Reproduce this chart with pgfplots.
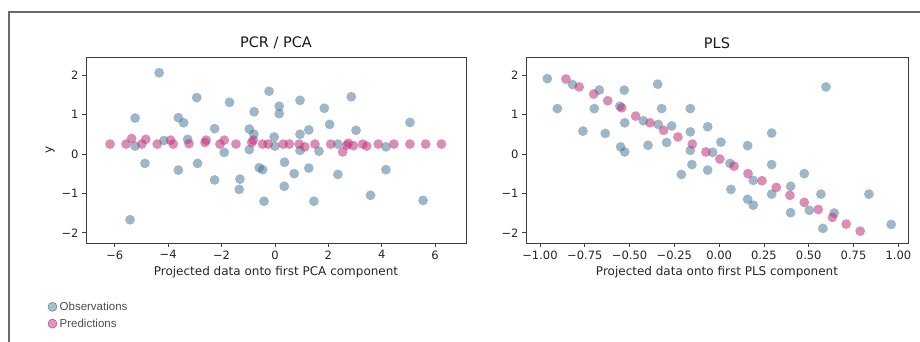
\documentclass[border=0pt]{standalone}
\usepackage{fontspec}
\setmainfont{DejaVu Sans}
\newfontfamily\lgfont{Liberation Sans}
\usepackage{pgfplots}
\pgfplotsset{compat=1.18}
\definecolor{obs}{RGB}{60,110,145}
\definecolor{pred}{RGB}{190,50,120}
\definecolor{axgray}{RGB}{60,60,60}
\definecolor{framegray}{RGB}{105,105,105}
\pgfplotsset{myax/.style={
  scale only axis, height=186pt,
  tick pos=left, tick align=outside, major tick length=4pt,
  axis line style={color=axgray, line width=0.9pt},
  tick style={color=axgray, line width=0.8pt},
  ticklabel style={font=\fontsize{11.5}{13}\selectfont, color=black!85},
  label style={font=\fontsize{12}{14}\selectfont, color=black!85},
  title style={font=\fontsize{14.5}{16}\selectfont, color=black!90, yshift=-1pt},
  ymin=-2.26, ymax=2.46,
  ytick={-2,-1,0,1,2}, yticklabels={−2,−1,0,1,2},
  clip=false,
},
obsp/.style={color=obs, only marks, mark=*, mark size=4.9pt,
  mark options={draw opacity=0, line width=0pt, fill=obs, fill opacity=0.5},
  legend image code/.code={\fill[obs, fill opacity=0.45] (0.3cm,0) circle (4.5pt);}},
predp/.style={color=pred, only marks, mark=*, mark size=4.9pt,
  mark options={draw opacity=0, line width=0pt, fill=pred, fill opacity=0.55},
  legend image code/.code={\fill[pred, fill opacity=0.5] (0.3cm,0) circle (4.5pt);}},
}
\begin{document}
\begin{tikzpicture}[x=1pt,y=1pt]
\useasboundingbox (0,0) rectangle (920,342);
\begin{axis}[myax, at={(86pt,99pt)}, anchor=south west, width=380pt,
  xmin=-7.08, xmax=7.16,
  xtick={-6,-4,-2,0,2,4,6}, xticklabels={−6,−4,−2,0,2,4,6},
  title={PCR / PCA}, xlabel={Projected data onto first PCA component}, ylabel={y},
  legend style={at={(-0.109,-0.294)}, anchor=north west, draw=none, fill=none,
    font=\lgfont\fontsize{11.5}{13}\selectfont, text=black!70, row sep=3pt,
    nodes={inner xsep=2.5pt}},
  legend cell align=left,
]
\addplot[obsp] coordinates {
(-4.34,2.06) (-5.24,0.91) (-5.24,0.20) (-4.87,-0.24) (-5.43,-1.67) (-4.16,0.34)
(-3.62,0.92) (-3.42,0.79) (-3.62,-0.41) (-3.27,0.37) (-2.93,1.43) (-2.90,-0.24)
(-2.26,0.64) (-2.26,-0.66) (-1.90,0.04) (-1.70,1.31) (-1.31,-0.64) (-1.34,-0.90)
(-0.96,0.63) (-0.79,0.50) (-0.96,0.11) (-0.78,1.07) (-0.59,-0.35) (-0.46,-0.40)
(-0.41,-1.20) (-0.22,1.59) (-0.03,0.43) (0.00,0.20) (0.16,1.21) (0.16,1.02)
(0.36,-0.21) (0.72,-0.50) (0.35,-0.82) (0.94,1.36) (0.94,0.50) (0.94,0.09)
(1.27,0.61) (1.27,-0.36) (1.46,-1.20) (1.65,0.07) (1.85,1.16) (2.05,0.75)
(2.36,0.25) (2.36,-0.52) (2.86,1.45) (3.04,0.60) (3.58,-1.05) (4.16,0.18)
(4.16,-0.40) (5.06,0.80) (5.55,-1.18)
};
\addlegendentry{Observations}
\addplot[predp] coordinates {
(-6.18,0.25) (-5.58,0.25) (-5.37,0.39) (-4.99,0.25) (-4.84,0.37) (-4.41,0.25)
(-3.91,0.35) (-3.81,0.25) (-3.22,0.26) (-2.62,0.29) (-2.58,0.35) (-2.06,0.25)
(-1.90,0.35) (-1.46,0.25) (-0.87,0.29) (-0.81,0.35) (-0.46,0.25) (-0.25,0.25)
(0.31,0.25) (0.54,0.25) (0.91,0.25) (1.12,0.18) (1.50,0.25) (2.09,0.25)
(2.54,0.05) (2.69,0.22) (2.75,0.27) (2.94,0.21) (3.29,0.25) (3.44,0.20)
(3.87,0.25) (4.46,0.25) (5.06,0.25) (5.65,0.25) (6.24,0.25)
};
\addlegendentry{Predictions}
\end{axis}
\begin{axis}[myax, at={(526pt,99pt)}, anchor=south west, width=382pt,
  xmin=-1.078, xmax=1.054,
  xtick={-1,-0.75,-0.5,-0.25,0,0.25,0.5,0.75,1},
  xticklabels={−1.00,−0.75,−0.50,−0.25,0.00,0.25,0.50,0.75,1.00},
  title={PLS}, xlabel={Projected data onto first PLS component},
]
\addplot[obsp] coordinates {
(-0.959,1.91) (-0.903,1.15) (-0.818,1.76) (-0.760,0.58) (-0.697,1.15) (-0.669,1.62)
(-0.636,0.52) (-0.554,1.21) (-0.550,0.18) (-0.530,1.62) (-0.527,0.79) (-0.527,0.05)
(-0.423,0.84) (-0.397,0.22) (-0.343,1.77) (-0.340,0.75) (-0.321,1.15) (-0.293,0.29)
(-0.265,0.71) (-0.211,-0.52) (-0.161,1.15) (-0.161,0.56) (-0.161,0.09) (-0.152,-0.27)
(-0.064,0.69) (-0.064,-0.41) (-0.036,0.04) (0.010,0.30) (0.060,-0.24) (0.066,-0.90)
(0.159,0.21) (0.159,-1.15) (0.190,-0.67) (0.190,-1.30) (0.293,0.53) (0.293,-0.27)
(0.293,-1.02) (0.399,-0.82) (0.399,-1.49) (0.475,-0.50) (0.503,-1.43) (0.568,-1.02)
(0.579,-1.89) (0.596,1.70) (0.642,-1.50) (0.836,-1.02) (0.960,-1.79)
};
\addplot[predp] coordinates {
(-0.855,1.90) (-0.781,1.70) (-0.700,1.52) (-0.622,1.35) (-0.544,1.17) (-0.466,0.96)
(-0.386,0.79) (-0.310,0.60) (-0.230,0.43) (-0.150,0.25) (-0.074,0.05) (0.004,-0.13)
(0.083,-0.31) (0.161,-0.50) (0.239,-0.68) (0.319,-0.85) (0.395,-1.05) (0.475,-1.23)
(0.553,-1.41) (0.632,-1.61) (0.709,-1.78) (0.787,-1.96)
};
\end{axis}
\draw[framegray, line width=1.5pt] (9,-2) -- (9,330) -- (922,330);
\end{tikzpicture}
\end{document}
